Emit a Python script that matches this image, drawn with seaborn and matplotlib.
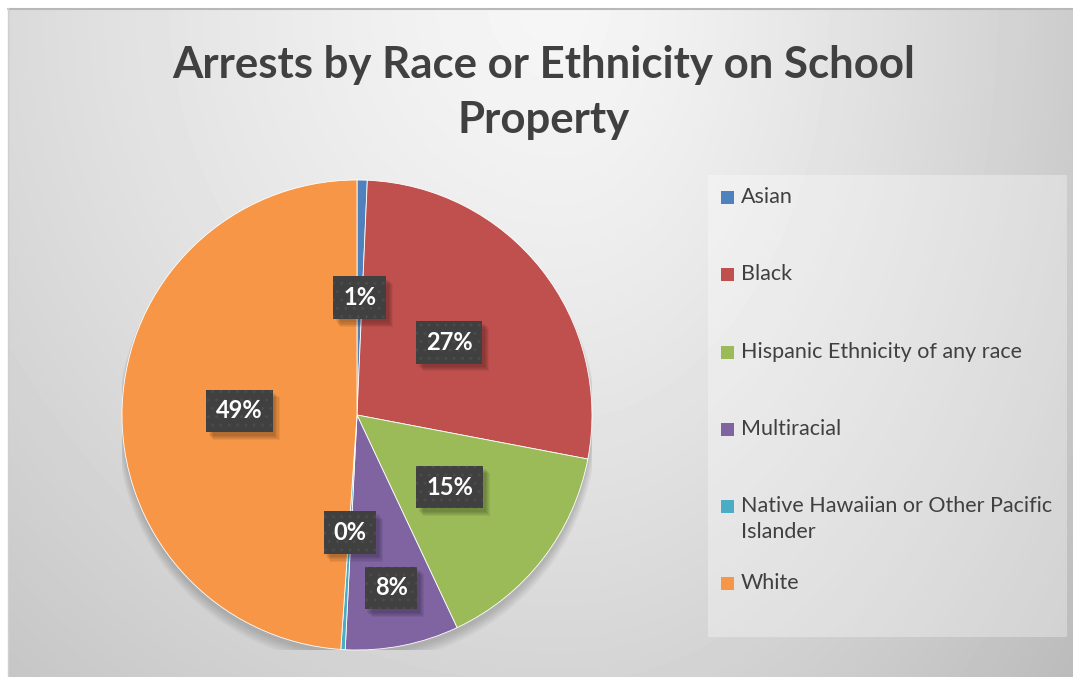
import numpy as np
import pandas as pd
import matplotlib
matplotlib.use("Agg")
import matplotlib.pyplot as plt
from matplotlib.patches import Rectangle, Circle
from matplotlib.transforms import IdentityTransform
import seaborn as sns

# Arrests on school property, share by race / ethnicity (%)
categories = ["Asian", "Black", "Hispanic Ethnicity of any race", "Multiracial",
              "Native Hawaiian or Other Pacific Islander", "White"]
shares = [0.7, 27.3, 15.0, 7.8, 0.3, 48.9]
legend_labels = ["Asian", "Black", "Hispanic Ethnicity of any race", "Multiracial",
                 "Native Hawaiian or Other Pacific\nIslander", "White"]
title_text = "Arrests by Race or Ethnicity on School\nProperty"

df = pd.DataFrame({"category": categories, "share": shares})

sns.set_theme(style="white")
plt.rcParams["font.family"] = ["Lato", "DejaVu Sans"]

colors = ["#4f81bd", "#c0504d", "#9bbb59", "#8064a2", "#4bacc6", "#f79646"]
text_dark = "#404040"

W, H = 1073, 677
fig = plt.figure(figsize=(W / 100, H / 100), dpi=100)
fig.patch.set_facecolor("white")

# --- chart-area background: soft radial grey gradient ---
bg = fig.add_axes([0, 0, 1, 1], zorder=0)
bg.set_xlim(0, W)
bg.set_ylim(H, 0)
bg.axis("off")
xx, yy = np.meshgrid(np.arange(8, W), np.arange(8, H))
cx, cy = 560.0, 0.0
dx = xx - cx
sx = np.where(dx < 0, 700.0, 480.0)
d = np.sqrt((dx / sx) ** 2 + ((yy - cy) / 750.0) ** 2)
val = np.clip(0.965 - 0.15 * d ** 1.3, 0, 1)
bg.imshow(val, cmap="gray", vmin=0, vmax=1, extent=[8, W, H, 8],
          interpolation="bilinear", aspect="auto")
bg.plot([8, W], [8.5, 8.5], color="#b8b8b8", lw=1.5)
bg.plot([8, 8], [8, H], color="#cfcfcf", lw=1.0)

# legend panel
bg.add_patch(Rectangle((708, 175), 359, 462, facecolor="white", alpha=0.32,
                       edgecolor="none"))

# title
bg.text(544, 133, title_text, ha="center", va="baseline", fontsize=31.5,
        fontweight="bold", color=text_dark, linespacing=1.46)

# --- pie ---
ax = fig.add_axes([122 / W, 27 / H, 470 / W, 470 / H], zorder=2)
ax.set_facecolor("none")

# soft drop shadow beneath the pie
for k in range(6):
    ax.add_patch(Circle((0, -0.02 - 0.004 * k), 1.0 + 0.004 * k,
                        facecolor="black", alpha=0.03, edgecolor="none", zorder=0))

wedges, _ = ax.pie(df["share"], colors=colors, startangle=90, counterclock=False,
                   radius=1.0, wedgeprops=dict(linewidth=0.6, edgecolor="white"))
for w in wedges:
    w.set_zorder(1)

ax.set_xlim(-1, 1)
ax.set_ylim(-1, 1)
ax.set_aspect("equal")
ax.axis("off")

# data labels: dark boxes inside each slice
label_dist = [0.5, 0.5, 0.5, 0.75, 0.5, 0.5]
labels = []
for w, v, r in zip(wedges, df["share"], label_dist):
    ang = np.deg2rad((w.theta1 + w.theta2) / 2)
    t = ax.text(r * np.cos(ang), r * np.sin(ang), f"{v:.0f}%", ha="center",
                va="center", fontsize=17, fontweight="bold", color="white",
                zorder=5,
                bbox=dict(boxstyle="square,pad=0.42", facecolor="#404040",
                          edgecolor="#4b4b4b", linewidth=0, hatch=".."))
    labels.append(t)

# soft offset shadow behind each label box (in pixel space)
fig.canvas.draw()
renderer = fig.canvas.get_renderer()
for t in labels:
    bb = t.get_bbox_patch().get_window_extent(renderer)
    for k in range(5):
        off = 2.5 + 1.1 * k
        ax.add_patch(Rectangle((bb.x0 + off, bb.y0 - off - 1), bb.width, bb.height,
                               transform=IdentityTransform(), facecolor="black",
                               alpha=0.06, edgecolor="none", zorder=4))

# --- legend ---
leg_y = [197, 274, 352, 429, 506, 583]
for lab, col, y in zip(legend_labels, colors, leg_y):
    bg.add_patch(Rectangle((721, y - 6), 13, 13, facecolor=col, edgecolor="none"))
    bg.text(741, y - 10, lab, ha="left", va="top", fontsize=15.5,
            color=text_dark, linespacing=1.4)

fig.savefig("out.png", dpi=100)
